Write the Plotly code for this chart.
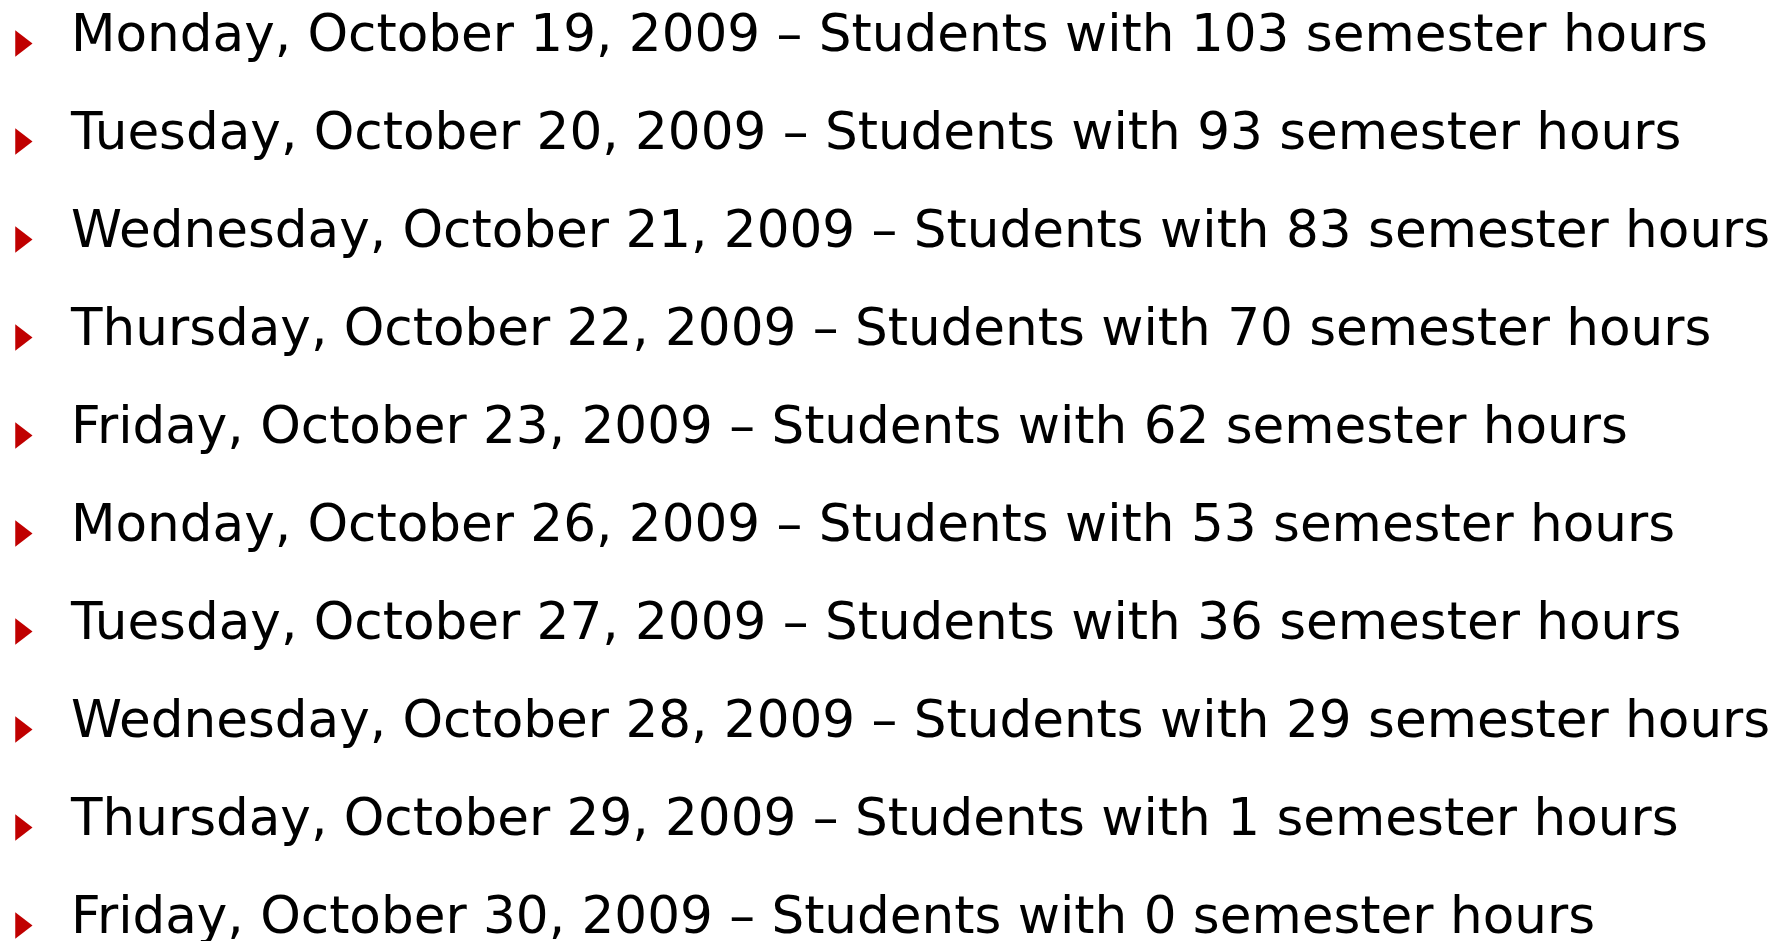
import plotly.graph_objects as go

weekdays = ["Monday", "Tuesday", "Wednesday", "Thursday", "Friday",
            "Monday", "Tuesday", "Wednesday", "Thursday", "Friday"]
dates = ["October 19, 2009", "October 20, 2009", "October 21, 2009",
         "October 22, 2009", "October 23, 2009", "October 26, 2009",
         "October 27, 2009", "October 28, 2009", "October 29, 2009",
         "October 30, 2009"]
semester_hours = [103, 93, 83, 70, 62, 53, 36, 29, 1, 0]

W, H = 1785, 941
FONT = "DejaVu Sans"
FS = 51.6
LINE = 98.0
TOP = 30.0  # pixel of first text line's middle

idx = list(range(len(weekdays)))
labels = [f"{d}, {dt} \u2013 Students with {h} semester hours"
          for d, dt, h in zip(weekdays, dates, semester_hours)]

bullet_off = 5.5 / LINE

fig = go.Figure()
fig.add_trace(go.Scatter(
    x=[13] * len(idx), y=[i + bullet_off for i in idx],
    mode="markers",
    marker=dict(symbol="triangle-right", size=23, color="#C00000", line=dict(width=0)),
    hoverinfo="skip", showlegend=False, cliponaxis=False,
))
fig.add_trace(go.Scatter(
    x=[63] * len(idx), y=idx, mode="text", text=labels,
    textposition="middle right",
    textfont=dict(family=FONT, size=FS, color="#000000"),
    hoverinfo="skip", showlegend=False, cliponaxis=True,
))

fig.update_layout(
    width=W, height=H,
    margin=dict(l=0, r=0, t=0, b=0),
    paper_bgcolor="white", plot_bgcolor="white",
    xaxis=dict(range=[0, W], visible=False, fixedrange=True),
    yaxis=dict(range=[(H - TOP) / LINE, -TOP / LINE], visible=False, fixedrange=True),
)

fig.write_html("out.html", config={"displayModeBar": False, "staticPlot": True})
